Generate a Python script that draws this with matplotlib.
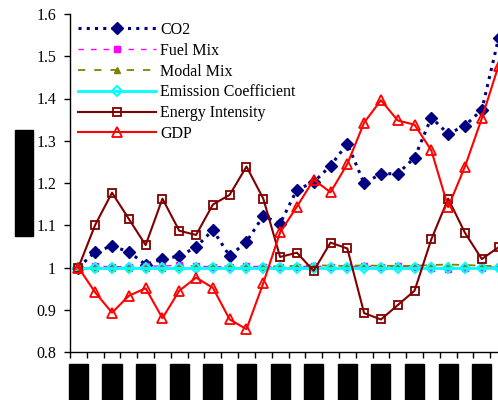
import matplotlib
matplotlib.use("Agg")
import matplotlib.pyplot as plt
import numpy as np

plt.rcParams['font.family'] = ['Liberation Serif', 'DejaVu Serif']

years = [str(y) for y in range(1980, 2006)]

co2 = [1.000, 1.037, 1.051, 1.037, 1.007, 1.020, 1.027, 1.048, 1.089, 1.027,
       1.061, 1.122, 1.104, 1.184, 1.202, 1.241, 1.293, 1.199, 1.222, 1.222,
       1.260, 1.355, 1.316, 1.336, 1.373, 1.543]
fuel_mix = [1.000, 1.003, 1.002, 1.002, 1.004, 1.003, 1.006, 1.003, 1.002, 1.002,
            1.003, 1.002, 1.001, 1.002, 1.003, 1.002, 1.001, 1.003, 1.002, 1.003,
            1.002, 0.998, 0.997, 0.998, 1.000, 1.001]
modal_mix = [1.000, 0.998, 0.998, 0.998, 0.999, 0.999, 1.002, 1.004, 1.003, 1.003,
             1.002, 1.002, 1.003, 1.004, 1.006, 1.004, 1.004, 1.005, 1.004, 1.004,
             1.004, 1.006, 1.007, 1.006, 1.004, 1.003]
emission_coef = [1.000] * 26
energy_intensity = [1.000, 1.101, 1.177, 1.115, 1.053, 1.163, 1.087, 1.077, 1.149, 1.172,
                    1.239, 1.163, 1.025, 1.035, 0.992, 1.059, 1.045, 0.892, 0.877, 0.911,
                    0.945, 1.067, 1.163, 1.082, 1.020, 1.048]
gdp = [1.000, 0.941, 0.893, 0.933, 0.951, 0.880, 0.945, 0.976, 0.952, 0.877,
       0.854, 0.963, 1.083, 1.144, 1.208, 1.178, 1.245, 1.343, 1.396, 1.348,
       1.338, 1.277, 1.143, 1.239, 1.353, 1.478]

fig = plt.figure(figsize=(4.98, 4.0), dpi=100)
# plot area runs slightly past the right edge of the figure
ax = fig.add_axes([70 / 498, 48 / 400, 437 / 498, 338 / 400])

x = np.arange(len(years))

ax.plot(x, co2, color='#000080', linestyle=(0, (1, 1.7)), linewidth=2.2,
        dash_capstyle='butt', marker='D', markersize=6, markerfacecolor='#000080',
        markeredgecolor='#000080', label='CO2')
ax.plot(x, fuel_mix, color='#FF00FF', linestyle=(0, (4, 5)), linewidth=1.0,
        marker='s', markersize=5, markerfacecolor='#FF00FF', markeredgecolor='#FF00FF',
        label='Fuel Mix')
ax.plot(x, modal_mix, color='#808000', linestyle=(0, (4, 5)), linewidth=1.3,
        marker='^', markersize=5, markerfacecolor='#808000', markeredgecolor='#808000',
        label='Modal Mix')
ax.plot(x, emission_coef, color='#00FFFF', linestyle='-', linewidth=2.0,
        marker='D', markersize=5.5, markerfacecolor='none', markeredgecolor='#00FFFF',
        markeredgewidth=1.5, label='Emission Coefficient')
ax.plot(x, energy_intensity, color='#800000', linestyle='-', linewidth=1.5,
        marker='s', markersize=5.5, markerfacecolor='none', markeredgecolor='#800000',
        markeredgewidth=1.3, label='Energy Intensity')
ax.plot(x, gdp, color='#FF0000', linestyle='-', linewidth=1.5,
        marker='^', markersize=6.5, markerfacecolor='none', markeredgecolor='#FF0000',
        markeredgewidth=1.3, label='GDP')

ax.set_xlim(-0.5, len(years) - 0.5)
ax.set_ylim(0.8, 1.6)
ax.set_yticks(np.arange(0.8, 1.61, 0.1))
ax.set_yticklabels(['0.8', '0.9', '1', '1.1', '1.2', '1.3', '1.4', '1.5', '1.6'])

# category boundaries carry the tick marks; labels sit on every other category
ax.set_xticks(np.arange(-0.5, len(years), 1.0), minor=True)
ax.set_xticks(x[::2])
ax.set_xticklabels(years[::2], rotation=90, color='black',
                   bbox=dict(facecolor='black', edgecolor='black', pad=2))
ax.tick_params(axis='x', which='major', length=0, pad=11, labelsize=11)
ax.tick_params(axis='x', which='minor', length=4, width=1, direction='out')
ax.tick_params(axis='y', length=4, width=1, direction='out', pad=6, labelsize=11.5)

for side in ('top', 'right'):
    ax.spines[side].set_visible(False)
for side in ('left', 'bottom'):
    ax.spines[side].set_linewidth(1.0)

ax.set_ylabel('Index (base = 1)', fontsize=11, color='black', va='center',
              bbox=dict(facecolor='black', edgecolor='black', pad=2))
ax.yaxis.set_label_coords(-46 / 437, 0.5)

ax.legend(loc='upper left', bbox_to_anchor=(0.0, 1.0), frameon=False, fontsize=11.5,
          handlelength=4.9, handletextpad=0.25, labelspacing=0.3, borderaxespad=0.1)

fig.savefig('out.png', dpi=100)
